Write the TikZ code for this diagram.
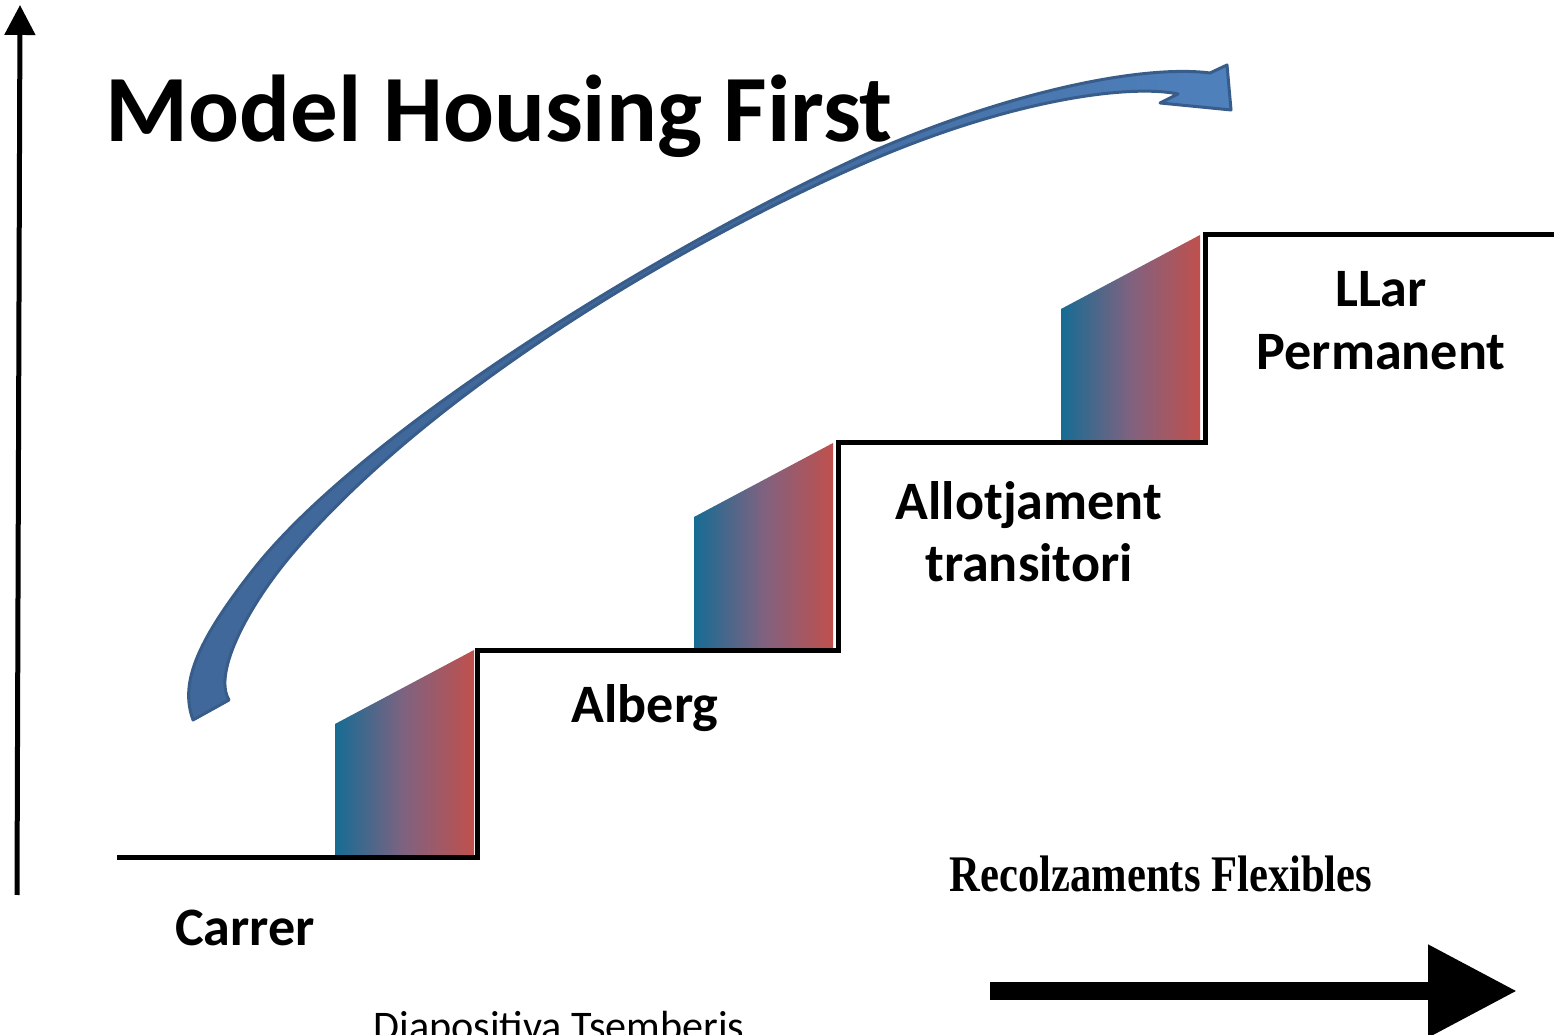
\documentclass[tikz,border=0pt]{standalone}
\usepackage{fontspec}
\usepackage{graphicx}
\setmainfont{Carlito}
\newfontfamily\flexfont{Liberation Serif}
\usetikzlibrary{arrows.meta}

\definecolor{stepblue}{RGB}{22,108,148}
\definecolor{stepmid}{RGB}{128,98,128}
\definecolor{stepred}{RGB}{192,80,77}
\definecolor{arrowdark}{RGB}{65,104,154}
\definecolor{arrowlight}{RGB}{79,129,189}
\definecolor{arrowedge}{RGB}{56,93,138}

\tikzset{
	stepline/.style={line width=0.05cm},
	stepgrad/.style={left color=stepblue, right color=stepred, middle color=stepmid},
	stagetext/.style={anchor=base, inner sep=0pt, font=\bfseries\fontsize{15.4}{18}\selectfont},
	bigarrow/.style={left color=arrowdark, right color=arrowlight, middle color=arrowdark, draw=arrowedge, line width=0.03cm, line join=round}
}

\begin{document}
\begin{tikzpicture}
	\useasboundingbox (0,0) rectangle (15.54,10.34);

	\draw [line width=0.05cm, -{Triangle[length=0.3cm,width=0.3cm]}] (0.17,1.39) -- (0.20,10.29);
	\draw [line width=0.18cm, -{Triangle[length=0.89cm,width=0.88cm]}] (9.90,0.43) -- (15.17,0.43);

	\foreach \x/\y in {3.35/1.76, 6.94/3.83, 10.61/5.91}
		\shade [stepgrad] (\x,\y) -- ++(1.39,0) -- ++(0,2.08) -- ++(-1.39,-0.74) -- cycle;

	\draw [stepline] (1.17,1.76) -- (4.77,1.76) -- (4.77,3.83) -- (8.38,3.83) -- (8.38,5.91) -- (12.05,5.91) -- (12.05,7.99) -- (15.54,7.99);

	\shadedraw [bigarrow] (1.93,3.14)
		.. controls (1.80,3.50) and (1.95,3.90) .. (2.53,4.64)
		.. controls (3.60,6.00) and (6.50,7.80) .. (8.60,8.77)
		.. controls (10.00,9.40) and (11.40,9.70) .. (12.10,9.61)
		-- (12.27,9.69) -- (12.31,9.24) -- (11.60,9.31) -- (11.78,9.40)
		.. controls (11.30,9.50) and (10.10,9.35) .. (8.60,8.69)
		.. controls (6.60,7.81) and (4.22,6.33) .. (2.93,4.81)
		.. controls (2.51,4.32) and (2.12,3.62) .. (2.29,3.34)
		-- cycle;

	\node (title) [anchor=base west, inner sep=0pt, font=\bfseries\fontsize{27}{32}\selectfont] at (1.05,8.92) {Model Housing First};

	\node (carrer) [stagetext] at (2.45,0.88) {Carrer};
	\node (alberg) [stagetext] at (6.45,3.11) {Alberg};
	\node (allotjament) [stagetext] at (10.29,5.14) {Allotjament};
	\node (transitori) [stagetext] at (10.29,4.52) {transitori};
	\node (llar) [stagetext] at (13.81,7.27) {LLar};
	\node (permanent) [stagetext] at (13.81,6.64) {Permanent};

	\node (suports) [anchor=base, inner sep=0pt, font=\flexfont\bfseries\fontsize{14.6}{17}\selectfont] at (11.61,1.42) {\scalebox{0.83}[1]{Recolzaments Flexibles}};
	\node (font) [anchor=base, inner sep=0pt, font=\fontsize{12}{14}\selectfont] at (5.59,-0.06) {Diapositiva Tsemberis};
\end{tikzpicture}
\end{document}
